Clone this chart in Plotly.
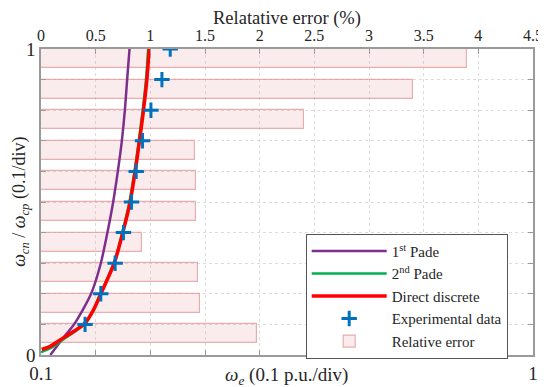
import plotly.graph_objects as go

# ---- data ----
y_levels = [0.1, 0.2, 0.3, 0.4, 0.5, 0.6, 0.7, 0.8, 0.9, 1.0]
exp_omega = [0.1806, 0.2094, 0.2356, 0.2508, 0.2655, 0.2741, 0.2857, 0.3011, 0.3212, 0.3364]
rel_error = [1.98, 1.45, 1.44, 0.92, 1.42, 1.42, 1.41, 2.41, 3.40, 3.90]

pade1_y = [0.0, 0.070, 0.1, 0.2, 0.3, 0.4, 0.5, 0.6, 0.7, 0.8, 0.9, 1.0]
pade1_omega = [0.1170, 0.1471, 0.1605, 0.1916, 0.2094, 0.2215, 0.2320, 0.2405, 0.2479, 0.2534, 0.2576, 0.2619]

pade2_y = [0.009, 0.022, 0.051, 0.077, 0.102, 0.143, 0.2, 0.3, 0.4, 0.5, 0.6, 0.7, 0.8, 0.9, 1.0]
pade2_omega = [0.1000, 0.1174, 0.1409, 0.1623, 0.1806, 0.1950, 0.2088, 0.2330, 0.2485, 0.2618, 0.2710, 0.2788, 0.2860, 0.2920, 0.2960]

direct_y = [0.018, 0.029, 0.056, 0.080, 0.1045, 0.145, 0.2, 0.3, 0.4, 0.5, 0.6, 0.7, 0.8, 0.9, 1.0]
direct_omega = [0.1013, 0.1174, 0.1409, 0.1623, 0.1806, 0.1953, 0.2094, 0.2340, 0.2497, 0.2631, 0.2723, 0.2802, 0.2875, 0.2937, 0.2979]

top_ticks = [0, 0.5, 1, 1.5, 2, 2.5, 3, 3.5, 4, 4.5]
top_tick_text = ["0", "0.5", "1", "1.5", "2", "2.5", "3", "3.5", "4", "4.5"]
bottom_ticks = [0.1, 1.0]
bottom_tick_text = ["0.1", "1"]
y_ticks = [0, 1.0]
y_tick_text = ["0", "1"]

bar_offset = 0.031
bar_height = 0.062

FONT = "Liberation Serif, Times New Roman, DejaVu Serif, serif"
TXT = "#262626"
AX = "#9a9a9a"
GRID = "#dcdcdc"

fig = go.Figure()

fig.add_trace(go.Bar(
    x=rel_error, y=[v - bar_offset for v in y_levels], orientation="h",
    width=bar_height, name="Relative error", legendrank=5,
    marker=dict(color="rgba(232,160,160,0.2)", line=dict(color="rgba(225,150,150,0.75)", width=1.2)),
    xaxis="x", yaxis="y",
))

fig.add_trace(go.Scatter(
    x=pade1_omega, y=pade1_y, mode="lines", name="1<sup>st</sup> Pade", legendrank=1,
    line=dict(color="#7E2F8E", width=2.5, shape="spline", smoothing=0.8), xaxis="x2", yaxis="y",
))
fig.add_trace(go.Scatter(
    x=pade2_omega, y=pade2_y, mode="lines", name="2<sup>nd</sup> Pade", legendrank=2,
    line=dict(color="#00B050", width=2.5, shape="spline", smoothing=0.8), xaxis="x2", yaxis="y",
))
fig.add_trace(go.Scatter(
    x=direct_omega, y=direct_y, mode="lines", name="Direct discrete", legendrank=3,
    line=dict(color="#FF0000", width=3.5, shape="spline", smoothing=0.8), xaxis="x2", yaxis="y",
))
fig.add_trace(go.Scatter(
    x=exp_omega, y=y_levels, mode="markers", name="Experimental data", legendrank=4,
    marker=dict(symbol="cross-thin", size=11, color="#0072BD", line=dict(color="#0072BD", width=3)),
    xaxis="x2", yaxis="y",
))

# page body has an 8 px margin, so the figure is drawn 8 px smaller and the margins shifted
fig.update_layout(
    width=538, height=379,
    margin=dict(l=33, r=13.3, t=41.3, b=31.5, autoexpand=False),
    paper_bgcolor="white", plot_bgcolor="white",
    font=dict(family=FONT, size=15, color=TXT),
    showlegend=True,
    bargap=0,
    xaxis=dict(
        side="top", range=[0, 4.5], tickvals=top_ticks, ticktext=top_tick_text,
        ticks="inside", ticklen=5, tickcolor=AX, showline=True, linecolor=AX, linewidth=1.5,
        showgrid=True, gridcolor=GRID, griddash="dot", gridwidth=1, zeroline=False,
        automargin=False,
        tickfont=dict(family=FONT, size=16, color=TXT),
    ),
    xaxis2=dict(
        overlaying="x", side="bottom", range=[0.1, 1.0], tickvals=bottom_ticks, ticktext=bottom_tick_text,
        ticks="inside", ticklen=5, tickcolor=AX, showline=True, linecolor=AX, linewidth=1.5,
        showgrid=False, zeroline=False, automargin=False,
        minor=dict(tick0=0.1, dtick=0.1, ticks="inside", ticklen=5, tickcolor=AX, showgrid=False),
        tickfont=dict(family=FONT, size=19, color=TXT),
    ),
    yaxis=dict(
        range=[0, 1], tickvals=y_ticks, ticktext=y_tick_text,
        ticks="inside", ticklen=5, tickcolor=AX, showline=True, linecolor=AX, linewidth=1.5,
        mirror="ticks", showgrid=False, zeroline=False, automargin=False,
        minor=dict(tick0=0, dtick=0.1, ticks="inside", ticklen=5, tickcolor=AX,
                   showgrid=True, gridcolor=GRID, griddash="dot", gridwidth=1),
        tickfont=dict(family=FONT, size=19, color=TXT),
    ),
    legend=dict(
        x=0.538, y=0.396, xanchor="left", yanchor="top",
        bgcolor="white", bordercolor="#555555", borderwidth=1,
        font=dict(family=FONT, size=15, color=TXT),
        itemwidth=75, tracegroupgap=0,
    ),
    annotations=[
        dict(text="Relatative error (%)", xref="paper", yref="paper",
             x=0.5, y=1.099, xanchor="center", yanchor="middle", showarrow=False,
             font=dict(family=FONT, size=18.5, color=TXT)),
        dict(text="<i>ω</i><sub><i>e</i></sub> (0.1 p.u./div)", xref="paper", yref="paper",
             x=0.498, y=-0.022, xanchor="center", yanchor="top", showarrow=False,
             font=dict(family=FONT, size=19, color=TXT)),
        dict(text="<i>ω</i><sub><i>cn</i></sub> / <i>ω</i><sub><i>cp</i></sub> (0.1/div)", xref="paper", yref="paper",
             x=-0.043, y=0.5, xanchor="center", yanchor="middle", textangle=-90, showarrow=False,
             font=dict(family=FONT, size=18, color=TXT)),
    ],
)

fig.write_html("out.html")
